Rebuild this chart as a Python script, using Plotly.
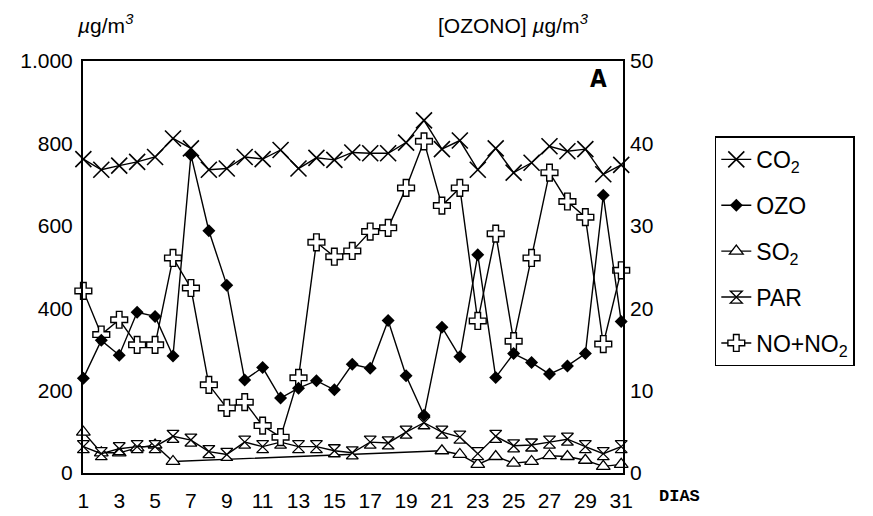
import plotly.graph_objects as go

days = list(range(1, 32))
co2 = [762, 736, 746, 755, 767, 812, 788, 736, 739, 767, 762, 784, 739, 765, 760,
       778, 776, 776, 802, 856, 786, 807, 736, 788, 729, 753, 793, 781, 786, 725, 748]
ozo = [11.5, 16.1, 14.3, 19.5, 19.0, 14.2, 38.6, 29.4, 22.8, 11.3, 12.8, 9.1, 10.3, 11.2, 10.1,
       13.2, 12.7, 18.5, 11.8, 7.0, 17.7, 14.1, 26.5, 11.6, 14.5, 13.4, 12.0, 13.0, 14.5, 33.7, 18.4]
so2 = [99, 49, 49, 61, 68, 28] + [None] * 14 + [54, 45, 21, 40, 24, 28, 42, 40, 31, 16, 21]
par = [64, 47, 59, 64, 64, 89, 80, 52, 45, 75, 64, 75, 64, 64, 54,
       49, 75, 73, 99, 122, 99, 87, 47, 89, 66, 68, 75, 82, 64, 47, 64]
nox = [442, 336, 372, 311, 311, 522, 449, 214, 158, 172, 115, 87, 231, 560, 525,
       539, 586, 595, 692, 805, 649, 692, 369, 581, 320, 522, 729, 659, 621, 313, 492]

left_ticks = [0, 200, 400, 600, 800, 1000]
left_labels = ["0", "200", "400", "600", "800", "1.000"]
right_ticks = [0, 10, 20, 30, 40, 50]
x_ticks = list(range(1, 32, 2))

FONT = "Liberation Sans, Arial, sans-serif"
LW = 1.4

fig = go.Figure()
fig.add_trace(go.Scatter(
    x=days, y=co2, name="CO<sub>2</sub>", mode="lines+markers", legendgroup="a",
    line=dict(color="black", width=LW),
    marker=dict(symbol="x-thin", size=16, line=dict(color="black", width=1.6)),
    cliponaxis=False))
fig.add_trace(go.Scatter(
    x=days, y=ozo, name="OZO", mode="lines+markers", yaxis="y2", legendgroup="b",
    line=dict(color="black", width=LW),
    marker=dict(symbol="diamond", size=10, color="black"),
    cliponaxis=False))
fig.add_trace(go.Scatter(
    x=days, y=so2, name="SO<sub>2</sub>", mode="lines+markers", connectgaps=True, legendgroup="c",
    line=dict(color="black", width=LW),
    marker=dict(symbol="triangle-up", size=12, color="white", line=dict(color="black", width=1.3)),
    cliponaxis=False))
fig.add_trace(go.Scatter(
    x=days, y=par, name="PAR", mode="lines+markers", legendgroup="d",
    line=dict(color="black", width=LW),
    marker=dict(symbol="hourglass", size=12, color="white", line=dict(color="black", width=1.3)),
    cliponaxis=False))
fig.add_trace(go.Scatter(
    x=days, y=nox, name="NO+NO<sub>2</sub>", mode="lines+markers", legendgroup="e",
    line=dict(color="black", width=LW),
    marker=dict(symbol="cross", size=14, color="white", line=dict(color="black", width=1.4)),
    cliponaxis=False))

fig.update_layout(
    width=873, height=516,
    margin=dict(l=69, r=258, t=53, b=37),
    paper_bgcolor="white", plot_bgcolor="white",
    font=dict(family=FONT, size=21, color="black"),
    showlegend=True,
    legend=dict(
        x=1.17, y=0.817, xanchor="left", yanchor="top",
        bordercolor="black", borderwidth=1.5, bgcolor="white",
        font=dict(size=23), traceorder="grouped", tracegroupgap=13,
        itemwidth=30),
    xaxis=dict(range=[0.98, 31.1], tickvals=x_ticks, ticks="", showgrid=False,
               zeroline=False, showline=True, linecolor="black", linewidth=2, mirror=True,
               tickfont=dict(size=21), ticklabelstandoff=8),
    yaxis=dict(range=[0, 1000], tickvals=left_ticks, ticktext=left_labels, ticks="",
               showgrid=False, zeroline=False, showline=True, linecolor="black",
               linewidth=2, mirror=True, tickfont=dict(size=21), ticklabelstandoff=4),
    yaxis2=dict(range=[0, 50], tickvals=right_ticks, overlaying="y", side="right",
                ticks="", showgrid=False, zeroline=False, showline=False,
                tickfont=dict(size=21), ticklabelstandoff=6),
    annotations=[
        dict(text="<i>µ</i>g/m<sup><i>3</i></sup>", xref="paper", yref="paper",
             x=-0.015, y=1.0, xanchor="left", yanchor="bottom", yshift=22,
             showarrow=False, font=dict(size=21)),
        dict(text="[OZONO] <i>µ</i>g/m<sup><i>3</i></sup>", xref="paper", yref="paper",
             x=(426 - 69) / 546, y=1.0, xanchor="left", yanchor="bottom", yshift=22,
             showarrow=False, font=dict(size=21)),
        dict(text="<b>A</b>", xref="paper", yref="paper",
             x=(590 - 69) / 546, y=(479 - 72) / 426, xanchor="center", yanchor="middle",
             showarrow=False, font=dict(size=24, family="Liberation Sans Narrow, DejaVu Sans Condensed, sans-serif")),
        dict(text="<b>DIAS</b>", xref="paper", yref="paper",
             x=(672 - 69) / 546, y=(479 - 503) / 426, xanchor="center", yanchor="middle",
             showarrow=False, font=dict(size=17, family="Liberation Mono, DejaVu Sans Mono, monospace")),
    ],
)

fig.write_html("out.html")
